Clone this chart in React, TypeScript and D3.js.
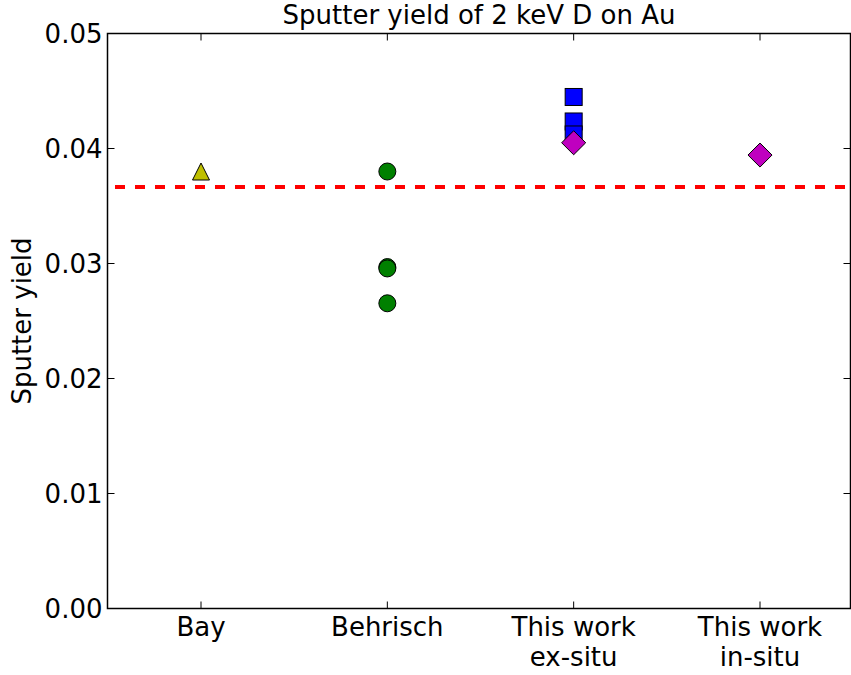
import React from "react";
import * as d3 from "d3";

const categories = ["Bay", "Behrisch", "This work\nex-situ", "This work\nin-situ"];
const yTicks = [0.0, 0.01, 0.02, 0.03, 0.04, 0.05];

const bayValues = [0.0380];
const behrischValues = [0.0380, 0.02969, 0.02957, 0.02654];
const exSituSquares = [0.04448, 0.04235, 0.04122];
const exSituDiamonds = [0.0405];
const inSituDiamonds = [0.03943];
const referenceLine = 0.03665;

const W = 851;
const H = 675;
const M = { left: 107.5, right: 850.5, top: 33.5, bottom: 608.5 };
const FONT = "DejaVu Sans, sans-serif";

export default function App() {
  const x = d3.scaleLinear().domain([1, 4]).range([201, 760]);
  const y = d3.scaleLinear().domain([0, 0.05]).range([M.bottom, M.top]);
  const ms = 17;
  const h = ms / 2;
  const tri = (cx: number, cy: number) =>
    `M${cx},${cy - h}L${cx + h},${cy + h}L${cx - h},${cy + h}Z`;
  const dia = (cx: number, cy: number) => {
    const r = h * Math.SQRT2;
    return `M${cx},${cy - r}L${cx + r},${cy}L${cx},${cy + r}L${cx - r},${cy}Z`;
  };
  const tl = 7;
  const fs = 26;
  return (
    <svg
      width={W}
      height={H}
      style={{ position: "absolute", left: 0, top: 0, background: "#fff" }}
      fontFamily={FONT}
    >
      <rect x={0} y={0} width={W} height={H} fill="#fff" />
      <line
        x1={M.left}
        x2={M.right}
        y1={y(referenceLine)}
        y2={y(referenceLine)}
        stroke="#ff0000"
        strokeWidth={4}
        strokeDasharray="10,10"
        strokeDashoffset={12.5}
      />
      {bayValues.map((v, i) => (
        <path key={"b" + i} d={tri(x(1), y(v))} fill="#bfbf00" stroke="#000" strokeWidth={1} />
      ))}
      {behrischValues.map((v, i) => (
        <circle key={"c" + i} cx={x(2)} cy={y(v)} r={h} fill="#008000" stroke="#000" strokeWidth={1} />
      ))}
      {exSituSquares.map((v, i) => (
        <rect key={"s" + i} x={x(3) - h} y={y(v) - h} width={ms} height={ms} fill="#0000ff" stroke="#000" strokeWidth={1} />
      ))}
      {exSituDiamonds.map((v, i) => (
        <path key={"d" + i} d={dia(x(3), y(v))} fill="#bf00bf" stroke="#000" strokeWidth={1} />
      ))}
      {inSituDiamonds.map((v, i) => (
        <path key={"e" + i} d={dia(x(4), y(v))} fill="#bf00bf" stroke="#000" strokeWidth={1} />
      ))}
      <rect
        x={M.left}
        y={M.top}
        width={M.right - M.left}
        height={M.bottom - M.top}
        fill="none"
        stroke="#000"
        strokeWidth={1.5}
      />
      {yTicks.map((t) => (
        <g key={"yt" + t}>
          <line x1={M.left} x2={M.left + tl} y1={y(t)} y2={y(t)} stroke="#000" strokeWidth={1} />
          <line x1={M.right} x2={M.right - tl} y1={y(t)} y2={y(t)} stroke="#000" strokeWidth={1} />
          <text x={M.left - 5} y={y(t)} dy="0.36em" textAnchor="end" fontSize={fs}>
            {t.toFixed(2)}
          </text>
        </g>
      ))}
      {categories.map((c, i) => (
        <g key={"xt" + i}>
          <line x1={x(i + 1)} x2={x(i + 1)} y1={M.bottom} y2={M.bottom - tl} stroke="#000" strokeWidth={1} />
          <line x1={x(i + 1)} x2={x(i + 1)} y1={M.top} y2={M.top + tl} stroke="#000" strokeWidth={1} />
          {c.split("\n").map((line, j) => (
            <text key={j} x={x(i + 1)} y={636 + j * 30} textAnchor="middle" fontSize={fs}>
              {line}
            </text>
          ))}
        </g>
      ))}
      <text x={(M.left + M.right) / 2} y={24} textAnchor="middle" fontSize={fs}>
        Sputter yield of 2 keV D on Au
      </text>
      <text
        transform={`translate(31,${(M.top + M.bottom) / 2}) rotate(-90)`}
        textAnchor="middle"
        fontSize={fs}
      >
        Sputter yield
      </text>
    </svg>
  );
}
